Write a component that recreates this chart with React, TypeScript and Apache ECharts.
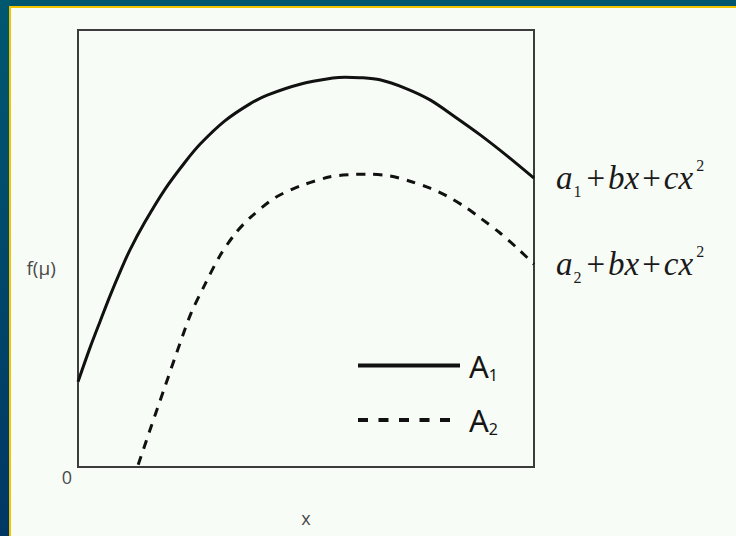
import React, { useEffect, useRef } from 'react';
import * as echarts from 'echarts';

// Curve A1: a1 + bx + cx^2 (solid)
const a1X = [0, 2.6, 4.8, 7.0, 9.2, 11.4, 14.7, 19.1, 23.5, 26.8, 32.2, 37.7, 41.5, 48.7, 55.9, 58.6, 61.8, 66.2, 71.7, 77.2, 82.7, 88.2, 94.1, 100];
const a1Y = [19.5, 27.2, 33.2, 39.1, 44.6, 49.7, 56.1, 63.6, 69.8, 73.9, 79.2, 83.1, 85.1, 87.6, 89.0, 89.2, 89.1, 88.6, 86.7, 84.0, 80.1, 76.0, 71.2, 66.1];

// Curve A2: a2 + bx + cx^2 (dashed)
const a2X = [13.2, 15.8, 19.1, 22.4, 24.8, 27.9, 31.1, 34.4, 37.7, 43.2, 48.7, 55.3, 59.7, 63.4, 68.4, 72.8, 77.2, 80.9, 84.9, 88.2, 92.5, 96.3, 100];
const a2Y = [0.5, 8.5, 18.5, 28.4, 35.2, 41.9, 48.3, 53.3, 57.0, 61.6, 64.3, 66.4, 66.9, 67.0, 66.6, 65.4, 63.8, 62.0, 59.5, 57.0, 53.6, 50.1, 46.4];

const seriesNames = ['A1', 'A2'];
const yAxisName = 'f(μ)';
const xAxisName = 'x';

const pairs = (xs: number[], ys: number[]) => xs.map((x, i) => [x, ys[i]]);

const serif = 'Liberation Serif';
const ink = '#1a1a1a';
const formulaRich = {
  it: { fontFamily: serif, fontStyle: 'italic', fontSize: 33, color: ink, lineHeight: 42, verticalAlign: 'middle' },
  op: { fontFamily: serif, fontSize: 33, color: ink, lineHeight: 42, verticalAlign: 'middle', padding: [0, 3, 0, 3] },
  sub: { fontFamily: serif, fontSize: 16, color: ink, verticalAlign: 'bottom', lineHeight: 14, padding: [0, 2, 0, 1] },
  sup: { fontFamily: serif, fontSize: 16, color: ink, verticalAlign: 'top', lineHeight: 15, padding: [0, 0, 0, 3] },
};

const formula = (idx: string) => `{it|a}{sub|${idx}}{op|+}{it|bx}{op|+}{it|cx}{sup|2}`;

export default function App() {
  const ref = useRef<HTMLDivElement>(null);

  useEffect(() => {
    document.body.style.margin = '0';
    const chart = echarts.init(ref.current!, null, { renderer: 'svg' });
    chart.setOption({
      animation: false,
      backgroundColor: '#f8fcf7',
      graphic: [
        {
          type: 'rect',
          shape: { x: 0, y: 0, width: 736, height: 6 },
          style: { fill: '#00566f' },
          silent: true,
        },
        {
          type: 'rect',
          shape: { x: 0, y: 6, width: 736, height: 2 },
          style: { fill: '#f2c500' },
          silent: true,
        },
        {
          type: 'rect',
          shape: { x: 0, y: 0, width: 9, height: 536 },
          style: {
            fill: new echarts.graphic.LinearGradient(0, 0, 0, 1, [
              { offset: 0, color: '#00586f' },
              { offset: 1, color: '#003766' },
            ]),
          },
          silent: true,
        },
        {
          type: 'rect',
          shape: { x: 9, y: 6, width: 2, height: 530 },
          style: { fill: '#f2c500' },
          silent: true,
        },
      ],
      grid: {
        left: 78,
        right: 202,
        top: 30,
        bottom: 69,
        show: true,
        borderColor: '#3c3c3c',
        borderWidth: 2,
        backgroundColor: 'transparent',
      },
      legend: {
        orient: 'vertical',
        left: 356,
        top: 350,
        padding: 0,
        itemWidth: 102,
        itemHeight: 14,
        itemGap: 22,
        data: [
          {
            name: seriesNames[0],
            itemStyle: { opacity: 0 },
            lineStyle: { width: 4, type: 'solid', color: '#111' },
          },
          {
            name: seriesNames[1],
            itemStyle: { opacity: 0 },
            lineStyle: { width: 4, type: [10, 10.5], color: '#111' },
          },
        ],
        formatter: (name: string) => `{a|A}{s|${name.slice(1)}}`,
        textStyle: {
          padding: [0, 0, 0, 4],
          rich: {
            a: { fontFamily: 'Noto Sans', fontSize: 31, color: '#151515', lineHeight: 34 },
            s: { fontFamily: 'Noto Sans', fontSize: 16, color: '#151515', verticalAlign: 'bottom', lineHeight: 12 },
          },
        },
      },
      xAxis: {
        type: 'value',
        min: 0,
        max: 100,
        interval: 100,
        name: xAxisName,
        nameLocation: 'middle',
        nameGap: 42,
        nameTextStyle: { fontFamily: 'Open Sans', fontSize: 18, color: '#4a4a4a' },
        axisLine: { show: false },
        axisTick: { show: false },
        axisLabel: { show: false },
        splitLine: { show: false },
      },
      yAxis: {
        type: 'value',
        min: 0,
        max: 100,
        interval: 100,
        name: yAxisName,
        nameLocation: 'middle',
        nameRotate: 0,
        nameGap: 18,
        nameTextStyle: {
          fontFamily: 'Open Sans',
          fontSize: 19,
          color: '#4a4a4a',
          verticalAlign: 'top',
          padding: [10, 0, 0, 0],
        },
        axisLine: { show: false },
        axisTick: { show: false },
        splitLine: { show: false },
        axisLabel: {
          formatter: (v: number) => (v === 0 ? '0' : ''),
          fontFamily: 'Open Sans',
          fontSize: 18,
          color: '#4a4a4a',
          margin: 6,
          verticalAlign: 'top',
          padding: [1, 0, 0, 0],
        },
      },
      series: [
        {
          name: seriesNames[0],
          type: 'line',
          data: pairs(a1X, a1Y),
          smooth: 0.3,
          showSymbol: false,
          symbol: 'none',
          itemStyle: { color: '#111' },
          lineStyle: { color: '#111', width: 3 },
          endLabel: {
            show: true,
            distance: 22,
            formatter: () => formula('1'),
            rich: formulaRich,
          },
        },
        {
          name: seriesNames[1],
          type: 'line',
          data: pairs(a2X, a2Y),
          smooth: 0.3,
          showSymbol: false,
          symbol: 'none',
          itemStyle: { color: '#111' },
          lineStyle: { color: '#111', width: 3, type: [9, 8] },
          endLabel: {
            show: true,
            distance: 22,
            formatter: () => formula('2'),
            rich: formulaRich,
          },
        },
      ],
    });
    return () => chart.dispose();
  }, []);

  return (
    <div
      ref={ref}
      style={{ position: 'absolute', left: 0, top: 0, width: 736, height: 536 }}
    />
  );
}
